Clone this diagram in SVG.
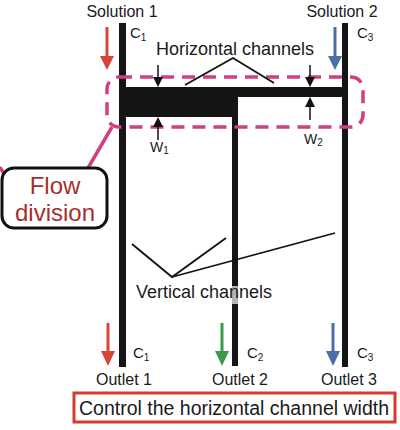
<svg xmlns="http://www.w3.org/2000/svg" width="400" height="430" viewBox="0 0 400 430">
<style>
text{font-family:"Liberation Sans",Arial,sans-serif;fill:#1a1a1a}
.lbl{font-size:16px}
.big{font-size:18px}
.ch{fill:#151515}
.lead{stroke:#111;stroke-width:1.8;fill:none}
.mag{stroke:#cf3f82;stroke-width:3.5;fill:none}
.sub{font-size:10px}
</style>
<rect width="400" height="430" fill="#fff"/>
<g id="channels">
<rect class="ch" x="119" y="23" width="7" height="344"/>
<rect class="ch" x="119" y="87" width="119" height="30"/>
<rect class="ch" x="232" y="87" width="6" height="279"/>
<rect class="ch" x="232" y="87" width="116" height="10"/>
<rect class="ch" x="342" y="23" width="6" height="344"/>
<rect x="232" y="286" width="6" height="18" fill="#b3b3b3"/>
</g>
<g id="flow-region">
<rect class="mag" x="107" y="77" width="256" height="50" rx="12" stroke-dasharray="13 8"/>
<line class="mag" x1="112" y1="127" x2="88" y2="168" stroke-width="3"/>
<line class="mag" x1="0" y1="167" x2="4" y2="174" stroke-width="3"/>
</g>
<g id="flow-division">
<rect x="2" y="168" width="105" height="60" rx="12" fill="#fff" stroke="#111" stroke-width="3"/>
<text x="55" y="194" text-anchor="middle" style="font-size:24px;fill:#a3312f">Flow</text>
<text x="55" y="221" text-anchor="middle" style="font-size:24px;fill:#a3312f">division</text>
</g>
<g id="inlets">
<text class="lbl" x="122" y="17" text-anchor="middle">Solution 1</text>
<text class="lbl" x="342" y="17" text-anchor="middle">Solution 2</text>
<line x1="107" y1="27" x2="107" y2="57" stroke="#d6443a" stroke-width="3"/>
<polygon points="100,56 114,56 107,70" fill="#d6443a"/>
<line x1="335" y1="27" x2="335" y2="57" stroke="#4a6ea8" stroke-width="3"/>
<polygon points="328,56 342,56 335,70" fill="#4a6ea8"/>
<text x="130" y="38" style="font-size:15px">C<tspan class="sub" dy="3">1</tspan></text>
<text x="357" y="38" style="font-size:15px">C<tspan class="sub" dy="3">3</tspan></text>
</g>
<g id="horizontal-label">
<text class="big" x="235" y="55" text-anchor="middle">Horizontal channels</text>
<polyline class="lead" points="185,85 233,58 274,83"/>
</g>
<g id="widths">
<line x1="158" y1="65" x2="158" y2="78" stroke="#111" stroke-width="1.5"/>
<polygon points="153,77 163,77 158,87" fill="#111"/>
<line x1="158" y1="126" x2="158" y2="140" stroke="#111" stroke-width="1.5"/>
<polygon points="153,127 163,127 158,117" fill="#111"/>
<text x="150" y="152" style="font-size:14px">W<tspan class="sub" dy="2">1</tspan></text>
<line x1="310" y1="65" x2="310" y2="78" stroke="#111" stroke-width="1.5"/>
<polygon points="305,77 315,77 310,87" fill="#111"/>
<line x1="310" y1="106" x2="310" y2="120" stroke="#111" stroke-width="1.5"/>
<polygon points="305,107 315,107 310,97" fill="#111"/>
<text x="304" y="144" style="font-size:14px">W<tspan class="sub" dy="2">2</tspan></text>
</g>
<g id="vertical-label">
<polyline class="lead" points="132,244 172,277 226,238"/>
<line class="lead" x1="172" y1="277" x2="335" y2="233"/>
<text class="big" x="204" y="298" text-anchor="middle">Vertical channels</text>
</g>
<g id="outlets">
<line x1="108" y1="323" x2="108" y2="352" stroke="#d6443a" stroke-width="3"/>
<polygon points="101,351 115,351 108,366" fill="#d6443a"/>
<line x1="222" y1="323" x2="222" y2="352" stroke="#3b9a4c" stroke-width="3"/>
<polygon points="215,351 229,351 222,366" fill="#3b9a4c"/>
<line x1="333" y1="323" x2="333" y2="352" stroke="#4a6ea8" stroke-width="3"/>
<polygon points="326,351 340,351 333,366" fill="#4a6ea8"/>
<text x="133" y="358" style="font-size:15px">C<tspan class="sub" dy="3">1</tspan></text>
<text x="247" y="358" style="font-size:15px">C<tspan class="sub" dy="3">2</tspan></text>
<text x="357" y="358" style="font-size:15px">C<tspan class="sub" dy="3">3</tspan></text>
<text class="lbl" x="124" y="385" text-anchor="middle">Outlet 1</text>
<text class="lbl" x="240" y="385" text-anchor="middle">Outlet 2</text>
<text class="lbl" x="349" y="385" text-anchor="middle">Outlet 3</text>
</g>
<g id="control-box">
<rect x="74" y="393" width="321" height="29" fill="#fff" stroke="#d23b30" stroke-width="3"/>
<text x="234" y="415" text-anchor="middle" style="font-size:19.5px">Control the horizontal channel width</text>
</g>
</svg>
